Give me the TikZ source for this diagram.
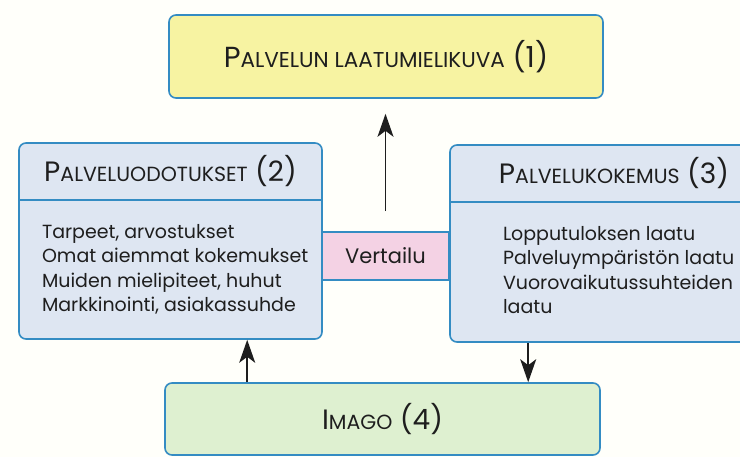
\documentclass[tikz,border=0pt]{standalone}
\usepackage{fontspec}
\setmainfont{Poppins}
\usetikzlibrary{positioning,arrows.meta,calc}

\definecolor{rand}{RGB}{52,140,195}
\definecolor{ink}{RGB}{30,30,30}
\definecolor{gelb}{RGB}{247,243,162}
\definecolor{hblau}{RGB}{222,230,242}
\definecolor{rosa}{RGB}{244,210,228}
\definecolor{gruen}{RGB}{222,240,208}

% fake small caps: big first letter, rest smaller
\newcommand{\kapit}[3][20.5]{#2{\fontsize{#1}{24}\selectfont #3}}

\begin{document}
\begin{tikzpicture}[x=1pt,y=-1pt,thick,
    box/.style={draw=rand,line width=1.6pt,rounded corners=7pt,inner sep=0pt,text=ink,font=\fontsize{28}{30}\selectfont},
    head/.style={inner sep=0pt,text=ink,font=\fontsize{28}{30}\selectfont},
    body/.style={inner sep=0pt,text=ink,align=left,font=\fontsize{19}{24.5}\selectfont},
    pfeil/.style={-{Stealth[length=23pt,width=16pt,inset=6pt]},line width=1.5pt,draw=ink}]
    \useasboundingbox (0,0) rectangle (740,457);
    \clip (0,0) rectangle (740,457);
    \fill[white!98!yellow] (0,0) rectangle (740,457);

    \node (1) [box,fill=gelb,minimum width=434pt,minimum height=83pt,font=\fontsize{29}{30}\selectfont] at (386,56.5){\kapit[21.5]{P}{ALVELUN LAATUMIELIKUVA} (1)};

    \node (2) [box,fill=hblau,minimum width=303pt,minimum height=196pt] at (170.5,241){};
    \node (2k) [head,minimum width=303pt,minimum height=57pt,anchor=north] at (2.north){\kapit{P}{ALVELUODOTUKSET} (2)};
    \node (2t) [body,anchor=north west] at ([xshift=23pt,yshift=-24pt]2k.south west){Tarpeet, arvostukset\\Omat aiemmat kokemukset\\Muiden mielipiteet, huhut\\Markkinointi, asiakassuhde};

    \node (3) [box,fill=hblau,minimum width=328pt,minimum height=197pt] at (614,243.5){};
    \node (3k) [head,minimum width=328pt,minimum height=57pt,anchor=north] at (3.north){\kapit{P}{ALVELUKOKEMUS} (3)};
    \node (3t) [body,anchor=north west] at ([xshift=53pt,yshift=-24pt]3k.south west){Lopputuloksen laatu\\Palveluympäristön laatu\\Vuorovaikutussuhteiden\\laatu};

    \node (v) [draw=rand,line width=1.6pt,fill=rosa,text=ink,minimum width=127pt,minimum height=48pt,inner sep=0pt,font=\fontsize{21}{24}\selectfont] at (385.5,256){Vertailu};

    \node (4) [box,fill=gruen,minimum width=435pt,minimum height=72pt] at (382.5,419){\kapit{I}{MAGO} (4)};

    \draw[rand,line width=1.6pt] (2k.south west) -- (2k.south east);
    \draw[rand,line width=1.6pt] (3k.south west) -- (3k.south east);

    \coordinate (a2) at ([xshift=83pt]4.north west);
    \coordinate (a4) at ([xshift=79pt]3.south west);

    \draw[pfeil,shorten <=20pt,shorten >=15pt] (v.north) -- (v.north |- 1.south);
    \draw[pfeil] (a2) -- (a2 |- 2.south);
    \draw[pfeil] (a4) -- (a4 |- 4.north);
\end{tikzpicture}
\end{document}
